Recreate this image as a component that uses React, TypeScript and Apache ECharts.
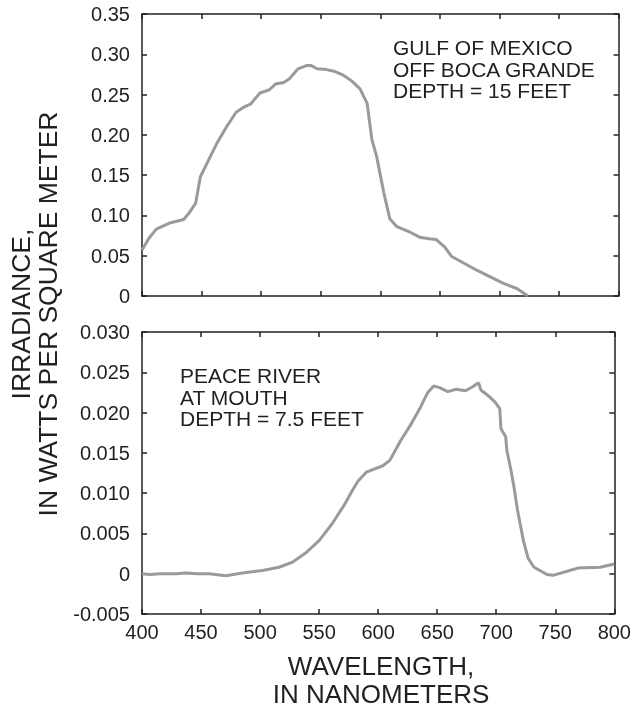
import React, { useEffect, useRef } from "react";
import * as echarts from "echarts";

const topWavelengths = [400, 406, 412, 418, 424, 430, 435, 440, 445, 449, 456, 463, 471, 479, 485, 491, 499, 507, 512, 519, 524, 531, 538, 542, 547, 555, 561, 569, 576, 583, 589, 593, 597, 603, 608, 614, 624, 633, 641, 647, 654, 660, 670, 681, 692, 703, 715, 724];
const topValues = [0.057, 0.072, 0.083, 0.087, 0.091, 0.093, 0.095, 0.104, 0.115, 0.148, 0.169, 0.19, 0.21, 0.228, 0.234, 0.238, 0.252, 0.256, 0.263, 0.265, 0.27, 0.282, 0.286, 0.286, 0.282, 0.281, 0.279, 0.274, 0.267, 0.257, 0.239, 0.194, 0.173, 0.128, 0.096, 0.086, 0.08, 0.073, 0.071, 0.07, 0.061, 0.049, 0.041, 0.032, 0.024, 0.016, 0.009, 0.0];

const bottomWavelengths = [400, 407, 415, 429, 437, 447, 457, 471, 485, 502, 516, 527, 538, 550, 561, 572, 578, 583, 590, 604, 610, 619, 628, 636, 642, 647, 652, 659, 666, 674, 680, 685, 687, 694, 699, 703, 704, 708, 709, 712, 715, 718, 723, 727, 732, 743, 748, 760, 769, 788, 800];
const bottomValues = [0.0, -0.0001, 0.0, 0.0, 0.0001, 0.0, 0.0, -0.00025, 0.0001, 0.0004, 0.0008, 0.0014, 0.0025, 0.0041, 0.0062, 0.0087, 0.0103, 0.0115, 0.0126, 0.0134, 0.0141, 0.0165, 0.0186, 0.0207, 0.0225, 0.0233, 0.0231, 0.0226, 0.0229, 0.0227, 0.0232, 0.0237, 0.0228, 0.022, 0.0213, 0.0205, 0.018, 0.017, 0.0153, 0.0132, 0.0108, 0.0079, 0.0041, 0.0019, 0.0008, -0.0001, -0.0002, 0.0003, 0.0007, 0.0008, 0.0012];

const xTicks = { min: 400, max: 800, interval: 50 };
const topY = { min: 0, max: 0.35, interval: 0.05, decimals: 2 };
const bottomY = { min: -0.005, max: 0.03, interval: 0.005, decimals: 3 };

const topLabel = "GULF OF MEXICO\nOFF BOCA GRANDE\nDEPTH = 15 FEET";
const bottomLabel = "PEACE RIVER\nAT MOUTH\nDEPTH = 7.5 FEET";
const xTitle = "WAVELENGTH,\nIN NANOMETERS";
const yTitle = "IRRADIANCE,\nIN WATTS PER SQUARE METER";

const FONT = "'Liberation Sans', Arial, Helvetica, sans-serif";
const INK = "#231f20";

export default function App() {
  const ref = useRef<HTMLDivElement>(null);
  useEffect(() => {
    if (!ref.current) return;
    const chart = echarts.init(ref.current, undefined, { renderer: "svg" });
    const axisLine = { show: true, onZero: false, lineStyle: { color: INK, width: 1.5 } };
    const axisTick = { show: true, inside: true, length: 5, lineStyle: { color: INK, width: 1.5 } };
    const fmt = (d: number) => (v: number) => (Math.abs(v) < 1e-9 ? "0" : v.toFixed(d));
    const xAx = (grid: number, pos: string, labels: boolean) => ({
      type: "value", gridIndex: grid, position: pos, ...xTicks,
      axisLine, axisTick, splitLine: { show: false },
      axisLabel: { show: labels, margin: 8, fontSize: 20, color: INK, fontFamily: FONT },
    });
    const yAx = (grid: number, pos: string, labels: boolean, cfg: any) => ({
      type: "value", gridIndex: grid, position: pos, min: cfg.min, max: cfg.max, interval: cfg.interval,
      axisLine, axisTick, splitLine: { show: false },
      axisLabel: { show: labels, margin: 12, fontSize: 20, color: INK, fontFamily: FONT, formatter: fmt(cfg.decimals) },
    });
    const lineStyle = { color: "#9a9a9a", width: 3 };
    chart.setOption({
      animation: false,
      grid: [
        { left: 142, top: 14, width: 476.5, height: 282 },
        { left: 142, top: 332, width: 476.5, height: 282 },
      ],
      xAxis: [xAx(0, "bottom", false), xAx(0, "top", false), xAx(1, "bottom", true), xAx(1, "top", false)],
      yAxis: [yAx(0, "left", true, topY), yAx(0, "right", false, topY), yAx(1, "left", true, bottomY), yAx(1, "right", false, bottomY)],
      series: [
        { type: "line", xAxisIndex: 0, yAxisIndex: 0, symbol: "none", lineStyle, data: topWavelengths.map((w, i) => [w, topValues[i]]) },
        { type: "line", xAxisIndex: 2, yAxisIndex: 2, symbol: "none", lineStyle, data: bottomWavelengths.map((w, i) => [w, bottomValues[i]]) },
      ],
      graphic: [
        { type: "text", x: 393, y: 37, style: { text: topLabel, font: `21px ${FONT}`, fill: INK, lineHeight: 21.5, textAlign: "left", textVerticalAlign: "top" } },
        { type: "text", x: 180, y: 365, style: { text: bottomLabel, font: `21px ${FONT}`, fill: INK, lineHeight: 21.5, textAlign: "left", textVerticalAlign: "top" } },
        { type: "text", x: 381, y: 680, style: { text: xTitle, font: `26px ${FONT}`, fill: INK, lineHeight: 28, textAlign: "center", textVerticalAlign: "middle" } },
        { type: "text", x: 34, y: 314, rotation: Math.PI / 2, style: { text: yTitle, font: `26.5px ${FONT}`, fill: INK, lineHeight: 27, textAlign: "center", textVerticalAlign: "middle" } },
      ],
    });
    return () => chart.dispose();
  }, []);
  return <div ref={ref} style={{ position: "fixed", left: 0, top: 0, width: 634, height: 708 }} />;
}
